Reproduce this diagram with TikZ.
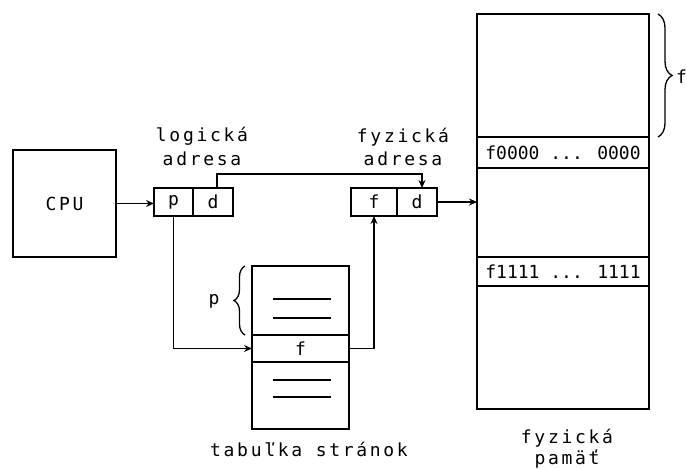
\documentclass[tikz,border=0pt]{standalone}
\usepackage{fontspec}
\newfontfamily\monofont[LetterSpace=15]{DejaVu Sans Mono}
\newfontfamily\cellfont{DejaVu Sans Mono}
\usetikzlibrary{arrows.meta,decorations.pathreplacing}
\begin{document}
\begin{tikzpicture}[x=1pt,y=-1pt,
  every node/.style={inner sep=0pt,outer sep=0pt},
  lbl/.style={font=\fontsize{18}{22}\monofont,anchor=base},
  cell/.style={draw,line width=1.6pt,minimum height=28pt,font=\fontsize{18}{22}\monofont},
  bx/.style={draw,line width=1.6pt},
  row/.style={draw,line width=1.6pt,font=\fontsize{18}{22}\cellfont},
  conn/.style={line width=1.6pt},
  arr/.style={line width=1.6pt,-{Stealth[length=8pt,width=7pt]}},
  brc/.style={line width=1.3pt,decorate,decoration={brace,amplitude=11pt}}]
\useasboundingbox (0,0) rectangle (687,468);
% CPU
\node[bx,minimum width=103pt,minimum height=107pt,font=\fontsize{18}{22}\monofont] (cpu) at (64.5,203.5) {CPU};
% logical address
\node[cell,minimum width=39pt] (lp) at (173.5,202) {p};
\node[cell,minimum width=40pt] (ld) at (213,202) {d};
\node[lbl] (l1) at (202,141) {logická};
\node[lbl] (l2) at (202,165) {adresa};
% physical address
\node[cell,minimum width=46pt] (pf) at (374,202) {f};
\node[cell,minimum width=40pt] (pd) at (417,202) {d};
\node[lbl] (f1) at (403,142) {fyzická};
\node[lbl] (f2) at (403,165) {adresa};
% page table
\node[bx,minimum width=97pt,minimum height=163pt] (tab) at (300.5,347.5) {};
\node[row,minimum width=97pt,minimum height=27pt,font=\fontsize{18}{22}\monofont] (trow) at (300.5,348.5) {f};
\coordinate (u1a) at (273,299); \coordinate (u1b) at (331,299);
\coordinate (u2a) at (273,318); \coordinate (u2b) at (331,318);
\coordinate (d1a) at (273,380); \coordinate (d1b) at (331,380);
\coordinate (d2a) at (273,397); \coordinate (d2b) at (331,397);
\draw[conn] (u1a) -- (u1b); \draw[conn] (u2a) -- (u2b);
\draw[conn] (d1a) -- (d1b); \draw[conn] (d2a) -- (d2b);
\coordinate (tb1) at (245,335); \coordinate (tb2) at (245,266);
\draw[brc] (tb1) -- (tb2);
\node[font=\fontsize{18}{22}\monofont] (tp) at (214,301) {p};
\node[lbl] (tl) at (309,456) {tabuľka stránok};
% memory
\node[bx,minimum width=172pt,minimum height=395pt] (mem) at (563,211.5) {};
\node[row,minimum width=172pt,minimum height=31pt] (m0) at (563,152.5) {f0000 ... 0000};
\node[row,minimum width=172pt,minimum height=29pt] (m1) at (563,271.5) {f1111 ... 1111};
\coordinate (mb1) at (658,14); \coordinate (mb2) at (658,137);
\draw[brc,decoration={brace,amplitude=14pt}] (mb1) -- (mb2);
\node[font=\fontsize{18}{22}\cellfont,anchor=west] (mf) at (676,77) {f};
\node[lbl] (m1l) at (567,443) {fyzická};
\node[lbl] (m2l) at (567,464) {pamäť};
% connectors
\draw[arr] (cpu.east) -- (cpu.east -| lp.west);
\draw[arr] (lp.south) |- (trow.west);
\draw[arr] (trow.east) -| (pf.south);
\draw[arr] ([xshift=4pt]ld.north) -- ++(0,-14) -| ([xshift=5pt]pd.north);
\draw[arr] (pd.east) -- (pd.east -| mem.west);
\end{tikzpicture}
\end{document}
